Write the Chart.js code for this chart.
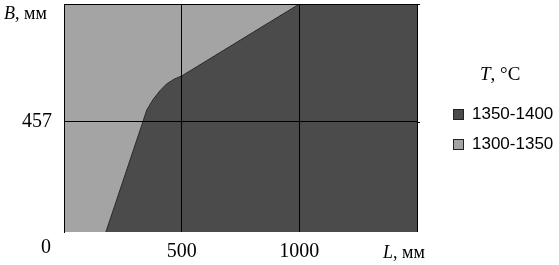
<!DOCTYPE html>
<html>
<head>
<meta charset="utf-8">
<script src="https://cdn.jsdelivr.net/npm/chart.js@4.4.1/dist/chart.umd.min.js"></script>
<style>
  html, body { margin: 0; padding: 0; background: #fff; }
  #wrap { position: relative; width: 559px; height: 265px; }
  #wrap canvas { position: absolute; left: 0; top: 0; }
  .lbl { position: absolute; font-family: "Liberation Serif", "Times New Roman", serif; color: #000; white-space: nowrap; line-height: 1; }
  #legend { position: absolute; left: 440px; top: 0; width: 119px; }
  #legendTitle { position: absolute; left: 40px; top: 64px; font-family: "Liberation Serif", serif; font-size: 19px; line-height: 1; white-space: nowrap; }
  .item { position: absolute; left: 13px; height: 20px; font-family: "Liberation Sans", Arial, sans-serif; font-size: 17px; line-height: 20px; white-space: nowrap; }
  .item .box { position: absolute; left: 0; top: 5px; width: 9px; height: 9px; border: 1px solid #222; }
  .item span.t { position: absolute; left: 19px; top: 0; }
</style>
</head>
<body>
<div id="wrap">
  <canvas id="contour" width="559" height="265"></canvas>
  <div class="lbl" style="left:4px; top:4px; font-size:18px;"><i>B</i>, мм</div>
  <div class="lbl" style="left:383px; top:243px; font-size:18px;"><i>L</i>, мм</div>
  <div class="lbl" style="left:41px; top:236px; font-size:20px;">0</div>
  <div id="legend">
    <div id="legendTitle"><i>T</i>, °C</div>
  </div>
</div>
<script>
// --- Data ---
const L_TICKS = [0, 500, 1000, 1500];
const B_TICKS = [0, 457, 947];
const L_LABELS = ["", "500", "1000", ""];
const B_LABELS = ["", "457", ""];

// boundary between the two temperature zones (L, B in mm)
const L_BOUNDARY = [0, 178, 335, 352, 377, 407, 436, 470, 500, 1000, 1500];
const B_BOUNDARY = [0, 0, 457, 507, 548, 586, 615, 636, 648, 947, 947];

const ZONES = ["1350-1400", "1300-1350"];
const ZONE_COLORS = ["#4b4b4b", "#a4a4a4"];

const L_MAX = 1500;
const B_MAX = 947;

const points = L_BOUNDARY.map((l, i) => ({ x: l, y: B_BOUNDARY[i] }));

const ctx = document.getElementById("contour").getContext("2d");
const chart = new Chart(ctx, {
  type: "line",
  data: {
    datasets: [
      {
        label: ZONES[0],
        data: points.slice(1),
        fill: "start",
        backgroundColor: ZONE_COLORS[0],
        borderColor: "#262626",
        borderWidth: 1,
        pointRadius: 0,
        tension: 0
      },
      {
        label: ZONES[1],
        data: points,
        fill: "end",
        backgroundColor: ZONE_COLORS[1],
        borderWidth: 0,
        pointRadius: 0,
        tension: 0
      }
    ]
  },
  options: {
    responsive: false,
    animation: false,
    layout: { padding: { left: 0, top: 4, right: 142, bottom: 0 } },
    plugins: { legend: { display: false }, tooltip: { enabled: false } },
    scales: {
      x: {
        type: "linear",
        min: 0, max: L_MAX,
        afterBuildTicks: s => { s.ticks = L_TICKS.map(v => ({ value: v })); },
        afterFit: s => { s.height = 33; s.paddingLeft = 0; s.paddingRight = 0; },
        grid: { color: "#000", lineWidth: 1, drawTicks: false, z: 1 },
        border: { display: false },
        ticks: {
          padding: 8,
          color: "#000",
          maxRotation: 0,
          font: { family: "Liberation Serif", size: 20 },
          callback: (v, i) => L_LABELS[i]
        }
      },
      y: {
        type: "linear",
        min: 0, max: B_MAX,
        afterBuildTicks: s => { s.ticks = B_TICKS.map(v => ({ value: v })); },
        afterFit: s => { s.width = 64; s.paddingTop = 0; s.paddingBottom = 0; },
        grid: {
          color: c => (c.tick && c.tick.value === 0 ? "rgba(0,0,0,0)" : "#000"),
          lineWidth: 1,
          drawTicks: false,
          z: 1
        },
        border: { color: "#000", width: 1, z: 1 },
        ticks: {
          padding: 12,
          color: "#000",
          font: { family: "Liberation Serif", size: 20 },
          callback: (v, i) => B_LABELS[i]
        }
      }
    }
  },
  plugins: [{
    // small tick marks on the right side of the frame
    id: "rightTicks",
    afterDraw(c) {
      const a = c.chartArea, g = c.ctx, ys = c.scales.y;
      g.save();
      g.strokeStyle = "#000";
      g.lineWidth = 1;
      g.beginPath();
      [457, B_MAX].forEach(v => {
        const y = Math.round(ys.getPixelForValue(v)) + 0.5;
        g.moveTo(a.right, y);
        g.lineTo(a.right + 3, y);
      });
      g.stroke();
      g.restore();
    }
  }]
});

// --- legend built from the datasets ---
const legend = document.getElementById("legend");
chart.data.datasets.forEach((ds, i) => {
  const item = document.createElement("div");
  item.className = "item";
  item.style.top = (104 + i * 30) + "px";
  item.innerHTML = `<div class="box" style="background:${ds.backgroundColor}"></div><span class="t">${ds.label}</span>`;
  legend.appendChild(item);
});
</script>
</body>
</html>
